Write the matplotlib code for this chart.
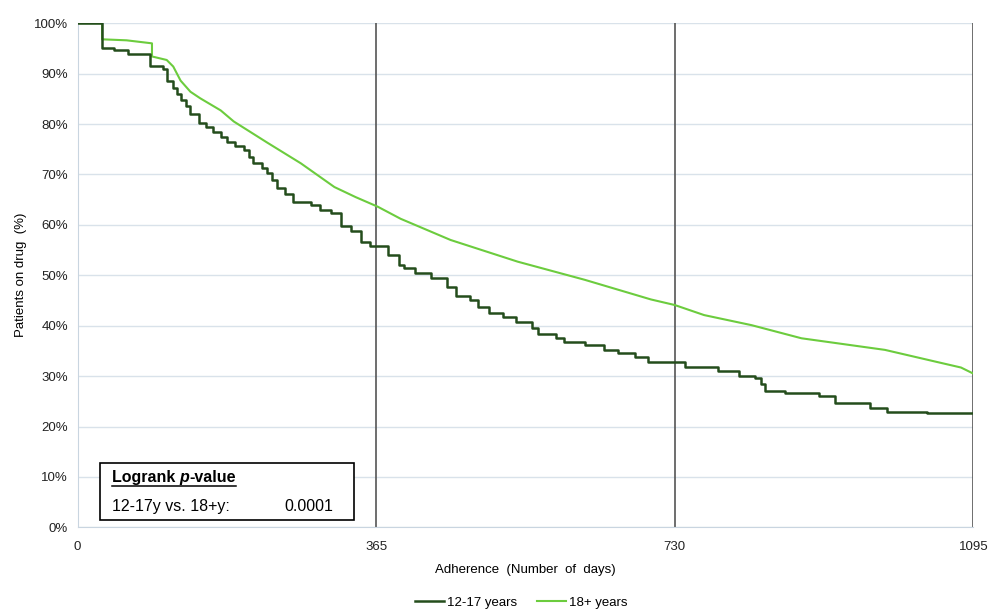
import numpy as np
import matplotlib.pyplot as plt
from matplotlib.lines import Line2D
from matplotlib.patches import Rectangle

plt.rcParams['font.family'] = ['Liberation Sans', 'DejaVu Sans']

# ---- datos ----
dias_jov = [0, 30, 45, 62, 89, 105, 109, 117, 122, 126, 132, 138, 148, 157, 166, 175,
            183, 193, 203, 210, 215, 225, 232, 238, 244, 254, 264, 285, 297, 310, 322,
            334, 347, 357, 379, 393, 399, 412, 432, 452, 463, 480, 489, 503, 520, 536,
            556, 563, 585, 595, 620, 644, 661, 681, 697, 742, 783, 808, 828, 835, 841,
            865, 906, 926, 969, 989, 1038, 1095]
pct_jov = [100, 95.0, 94.6, 93.8, 91.6, 91.0, 88.6, 87.2, 86.0, 84.8, 83.5, 82.0, 80.2,
           79.5, 78.5, 77.5, 76.5, 75.7, 74.8, 73.5, 72.3, 71.2, 70.2, 68.8, 67.3, 66.2,
           64.6, 63.9, 62.9, 62.4, 59.8, 58.8, 56.5, 55.8, 54.1, 52.0, 51.4, 50.5, 49.4,
           47.6, 45.8, 45.0, 43.8, 42.5, 41.8, 40.8, 39.5, 38.4, 37.5, 36.8, 36.2, 35.2,
           34.5, 33.7, 32.7, 31.9, 31.1, 30.0, 29.6, 28.5, 27.1, 26.6, 26.1, 24.6, 23.6,
           22.9, 22.6, 22.6]

dias_adu = [0, 30, 30, 60, 91, 91, 109, 117, 126, 138, 150, 175, 191, 232, 273, 314,
            340, 367, 395, 456, 538, 620, 701, 730, 766, 824, 885, 987, 1048, 1080, 1095]
pct_adu = [100, 100, 96.8, 96.6, 96.0, 93.4, 92.7, 91.4, 88.6, 86.4, 85.1, 82.7, 80.5,
           76.3, 72.2, 67.5, 65.5, 63.6, 61.2, 57.0, 52.7, 49.1, 45.2, 44.1, 42.1, 40.1,
           37.5, 35.2, 32.9, 31.7, 30.5]

x_ticks = [0, 365, 730, 1095]
y_ticks = np.arange(0, 101, 10)

fig = plt.figure(figsize=(9.89, 6.10), dpi=100)
ax = fig.add_axes([0.0784, 0.1355, 0.9057, 0.8265])

# grid y lineas verticales
for y in y_ticks:
    ax.axhline(y, color='#d9e2ea', lw=1, zorder=0)
for x in x_ticks[1:]:
    ax.axvline(x, color='#555555', lw=1.2, zorder=1)

ax.plot(dias_jov, pct_jov, drawstyle='steps-post', color='#244d1c', lw=1.8,
        label='12-17 years', zorder=3)
ax.plot(dias_adu, pct_adu, color='#6ccc3e', lw=1.5, label='18+ years', zorder=2)

ax.set_xlim(0, 1095)
ax.set_ylim(0, 100)
ax.set_xticks(x_ticks)
ax.set_yticks(y_ticks)
ax.set_yticklabels([f'{v}%' for v in y_ticks])
ax.tick_params(length=0, labelsize=9.5, colors='#222222', pad=7)
ax.tick_params(axis='x', pad=10)

for s in ['top', 'right']:
    ax.spines[s].set_visible(False)
ax.spines['left'].set_color('#c9d5e0')
ax.spines['bottom'].set_color('#c9d5e0')

ax.set_xlabel('Adherence  (Number  of  days)', fontsize=9.5, labelpad=8)
ax.set_ylabel('Patients on drug  (%)', fontsize=9.5, labelpad=5)

# cuadro logrank
ax.add_patch(Rectangle((0.0253, 0.0145), 0.283, 0.113, transform=ax.transAxes,
                       facecolor='white', edgecolor='black', lw=1.2, zorder=5))
t1 = ax.text(0.0384, 0.098, 'Logrank ', transform=ax.transAxes, fontsize=11.5,
             fontweight='bold', va='center', zorder=6)
fig.canvas.draw()
bb = t1.get_window_extent().transformed(ax.transAxes.inverted())
t2 = ax.text(bb.x1, 0.098, 'p', transform=ax.transAxes, fontsize=11.5,
             fontweight='bold', style='italic', va='center', zorder=6)
fig.canvas.draw()
bb2 = t2.get_window_extent().transformed(ax.transAxes.inverted())
t3 = ax.text(bb2.x1, 0.098, '-value', transform=ax.transAxes, fontsize=11.5,
             fontweight='bold', va='center', zorder=6)
fig.canvas.draw()
bb3 = t3.get_window_extent().transformed(ax.transAxes.inverted())
ax.add_line(Line2D([0.0384, bb3.x1], [0.0815, 0.0815], transform=ax.transAxes,
                   color='black', lw=1.1, zorder=6))
ax.text(0.0384, 0.042, '12-17y vs. 18+y:', transform=ax.transAxes, fontsize=11.5,
        va='center', zorder=6)
ax.text(0.285, 0.042, '0.0001', transform=ax.transAxes, fontsize=11.5,
        va='center', ha='right', zorder=6)

fig.legend(loc='center', bbox_to_anchor=(0.527, 0.012), ncol=2, frameon=False,
           fontsize=9.5, handlelength=2.2, handletextpad=0.2, columnspacing=1.5)

fig.savefig('out.png', dpi=100)
